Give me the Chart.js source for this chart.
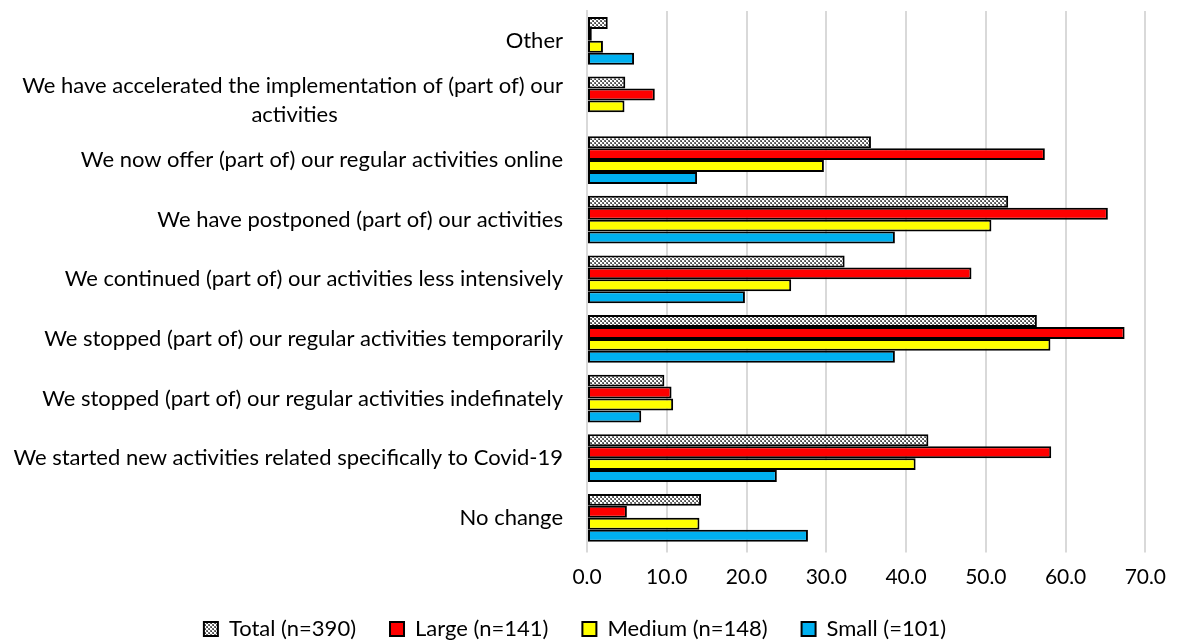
<!DOCTYPE html>
<html>
<head>
<meta charset="utf-8">
<script src="https://cdn.jsdelivr.net/npm/chart.js@4/dist/chart.umd.min.js"></script>
<style>
  html, body { margin: 0; padding: 0; background: #ffffff; }
  #wrap { width: 1178px; height: 641px; position: relative; }
</style>
</head>
<body>
<div id="wrap"><canvas id="c" width="1178" height="641"></canvas></div>
<script>
const categories = [
  "Other",
  ["We have accelerated the implementation of (part of) our", "activities"],
  "We now offer (part of) our regular activities online",
  "We have postponed (part of) our activities",
  "We continued (part of) our activities less intensively",
  "We stopped (part of) our regular activities temporarily",
  "We stopped (part of) our regular activities indefinately",
  "We started new activities related specifically to Covid-19",
  "No change"
];
const seriesNames = ["Total (n=390)", "Large (n=141)", "Medium (n=148)", "Small (=101)"];
const totalValues  = [2.6, 4.8, 35.6, 52.8, 32.3, 56.4, 9.7, 42.8, 14.3];
const largeValues  = [0.6, 8.5, 57.4, 65.3, 48.2, 67.4, 10.6, 58.2, 5.0];
const mediumValues = [2.0, 4.7, 29.7, 50.7, 25.6, 58.1, 10.8, 41.2, 14.1];
const smallValues  = [5.9, 0.0, 13.8, 38.6, 19.8, 38.6, 6.8, 23.8, 27.7];
const xTickValues  = [0, 10, 20, 30, 40, 50, 60, 70];

const FONT_FAMILY = "Lato, 'Liberation Sans', sans-serif";
const LABEL_SIZE = 22;
const TICK_SIZE = 21;
const LEGEND_SIZE = 22;

// checkerboard pattern for Total
function makePattern() {
  const t = document.createElement('canvas');
  t.width = 4; t.height = 4;
  const g = t.getContext('2d');
  g.fillStyle = '#ffffff';
  g.fillRect(0, 0, 4, 4);
  g.fillStyle = '#6f6f6f';
  g.fillRect(0, 0, 2, 2);
  g.fillRect(2, 2, 2, 2);
  g.fillStyle = '#3f3f3f';
  g.fillRect(1, 1, 1, 1);
  g.fillRect(3, 3, 1, 1);
  return g.createPattern(t, 'repeat');
}
const totalPattern = makePattern();

// center the second line of wrapped labels under the first one
const mctx = document.createElement('canvas').getContext('2d');
mctx.font = LABEL_SIZE + "px " + FONT_FAMILY;
const displayLabels = categories.map(function (c) {
  if (!Array.isArray(c)) return c;
  const w1 = mctx.measureText(c[0]).width;
  const out = [c[0]];
  for (let i = 1; i < c.length; i++) {
    const w2 = mctx.measureText(c[i]).width;
    const sw = mctx.measureText(' ').width;
    const n = Math.max(0, Math.round((w1 - w2) / 2 / sw));
    out.push(c[i] + ' '.repeat(n));
  }
  return out;
});

function zeroBorder(ctx) {
  const v = ctx.raw;
  return (v === 0 || v === null) ? 0 : 2;
}

const colors = [totalPattern, '#ff0000', '#ffff00', '#00b0f0'];
const valueSets = [totalValues, largeValues, mediumValues, smallValues];

const LEGEND_HEIGHT = 57;
const legendHeightPlugin = {
  id: 'legendHeight',
  beforeInit: function (chart) {
    const lg = chart.legend;
    if (!lg) return;
    const orig = lg.fit;
    lg.fit = function () {
      orig.call(this);
      this.height = LEGEND_HEIGHT;
    };
  }
};

new Chart(document.getElementById('c'), {
  type: 'bar',
  data: {
    labels: displayLabels,
    datasets: seriesNames.map(function (name, i) {
      return {
        label: name,
        data: valueSets[i],
        backgroundColor: colors[i],
        borderColor: '#000000',
        borderWidth: zeroBorder,
        borderSkipped: false,
        barPercentage: 1.0,
        categoryPercentage: 0.8
      };
    })
  },
  plugins: [legendHeightPlugin],
  options: {
    indexAxis: 'y',
    responsive: false,
    animation: false,
    devicePixelRatio: 1,
    layout: { padding: { top: 11, right: 28, left: 0, bottom: 0 } },
    plugins: {
      legend: {
        position: 'bottom',
        labels: {
          font: { family: FONT_FAMILY, size: LEGEND_SIZE },
          color: '#000000',
          boxWidth: 14,
          boxHeight: 14,
          padding: 34,
          useBorderRadius: false
        }
      },
      tooltip: { enabled: false }
    },
    scales: {
      x: {
        min: 0,
        max: 70,
        afterBuildTicks: function (scale) {
          scale.ticks = xTickValues.map(function (v) { return { value: v }; });
        },
        afterFit: function (scale) { scale.height = 36.4; },
        grid: {
          color: '#d9d9d9',
          lineWidth: 2,
          drawTicks: true,
          tickLength: 5
        },
        border: { display: false },
        ticks: {
          font: { family: FONT_FAMILY, size: TICK_SIZE },
          color: '#000000',
          padding: 12,
          maxRotation: 0,
          callback: function (v) { return Number(v).toFixed(1).replace('.', ','); }
        }
      },
      y: {
        afterFit: function (scale) {
          scale.width = 587;
          scale.paddingTop = 0;
          scale.paddingBottom = 0;
        },
        grid: { display: false, drawTicks: false },
        border: { display: true, color: '#d9d9d9', width: 2 },
        ticks: {
          font: { family: FONT_FAMILY, size: LABEL_SIZE, lineHeight: 1.35 },
          color: '#000000',
          padding: 24,
          autoSkip: false
        }
      }
    }
  }
});
</script>
</body>
</html>
